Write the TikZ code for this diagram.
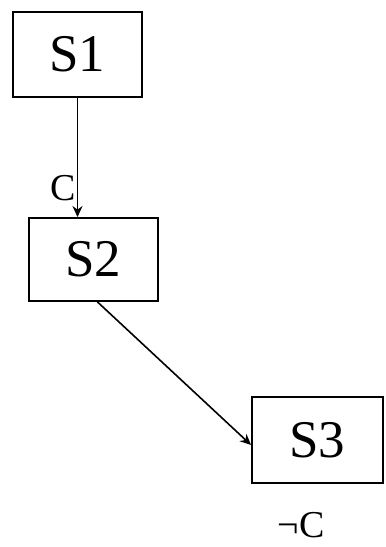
\documentclass[tikz,border=0pt]{standalone}
\usepackage{fontspec}
\setmainfont{Liberation Serif}
\usepackage{tikz}
\usetikzlibrary{arrows.meta, positioning}
\tikzstyle{state} = [draw, line width=1.9pt, minimum width=129pt, minimum height=85pt, inner sep=0pt, font=\fontsize{53}{53}\selectfont]
\tikzstyle{cond} = [inner sep=0pt, font=\fontsize{38}{38}\selectfont]
\tikzstyle{arrow} = [line width=1.6pt,->,>={Stealth[length=11pt,width=10pt]}]

\begin{document}
\begin{tikzpicture}[x=1pt, y=-1pt]
    \useasboundingbox (0,0) rectangle (386,547);

    % States
    \node[state] (S1) at (77.5,54.5) {S1};
    \node[state, minimum height=83pt] (S2) at (93.5,259.5) {S2};
    \node[state, minimum width=131pt, minimum height=86pt] (S3) at (317.5,440) {S3};

    % Conditions
    \node[cond] (c) at (63,188) {C};
    \node[cond] (notc) at (301,525) {¬C};

    % Transitions
    \draw [arrow] (S1.south) -- (S2.north -| S1.south);
    \draw [arrow] ([xshift=4pt]S2.south) -- ([yshift=-5pt]S3.west);
\end{tikzpicture}
\end{document}
